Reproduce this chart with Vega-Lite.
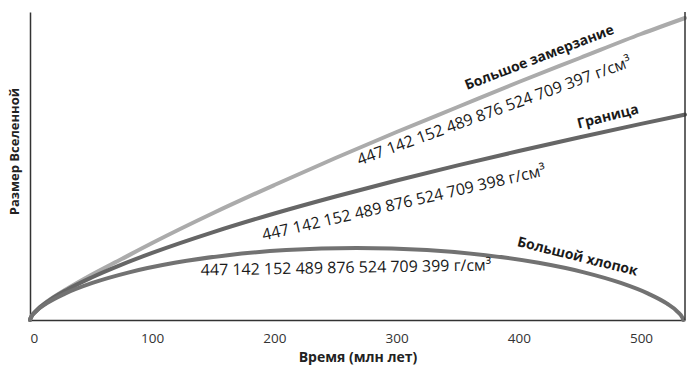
{
  "$schema": "https://vega.github.io/schema/vega-lite/v6.json",
  "autosize": "none",
  "padding": {"left": 30, "top": 12, "right": 9, "bottom": 63},
  "width": 655,
  "height": 308,
  "config": {"view": {"stroke": null}, "font": "Open Sans"},
  "layer": [
    {
      "data": {"values": [
        {"s": "freeze", "x": 0, "y": 0}, {"s": "freeze", "x": 1, "y": 3.1}, {"s": "freeze", "x": 5, "y": 9.2}, {"s": "freeze", "x": 15, "y": 19.3}, {"s": "freeze", "x": 30, "y": 31}, {"s": "freeze", "x": 50, "y": 45}, {"s": "freeze", "x": 75, "y": 61}, {"s": "freeze", "x": 100, "y": 77}, {"s": "freeze", "x": 150, "y": 107}, {"s": "freeze", "x": 200, "y": 135}, {"s": "freeze", "x": 250, "y": 162}, {"s": "freeze", "x": 300, "y": 188}, {"s": "freeze", "x": 350, "y": 213}, {"s": "freeze", "x": 400, "y": 238}, {"s": "freeze", "x": 450, "y": 262}, {"s": "freeze", "x": 500, "y": 286}, {"s": "freeze", "x": 536, "y": 302},
        {"s": "boundary", "x": 0, "y": 0}, {"s": "boundary", "x": 1, "y": 3.1}, {"s": "boundary", "x": 5, "y": 9.1}, {"s": "boundary", "x": 15, "y": 18.9}, {"s": "boundary", "x": 30, "y": 30.1}, {"s": "boundary", "x": 50, "y": 42.3}, {"s": "boundary", "x": 75, "y": 55.4}, {"s": "boundary", "x": 100, "y": 67.1}, {"s": "boundary", "x": 150, "y": 87.9}, {"s": "boundary", "x": 200, "y": 106.5}, {"s": "boundary", "x": 250, "y": 123.5}, {"s": "boundary", "x": 300, "y": 139.5}, {"s": "boundary", "x": 350, "y": 154.6}, {"s": "boundary", "x": 400, "y": 169}, {"s": "boundary", "x": 450, "y": 182.8}, {"s": "boundary", "x": 500, "y": 196.1}, {"s": "boundary", "x": 536, "y": 205.4},
        {"s": "crunch", "x": 0, "y": 0}, {"s": "crunch", "x": 0.11, "y": 0.72}, {"s": "crunch", "x": 0.9, "y": 2.84}, {"s": "crunch", "x": 4.75, "y": 8.47}, {"s": "crunch", "x": 13.49, "y": 16.55}, {"s": "crunch", "x": 28.62, "y": 26.37}, {"s": "crunch", "x": 51.08, "y": 37.05}, {"s": "crunch", "x": 81.13, "y": 47.64}, {"s": "crunch", "x": 118.38, "y": 57.19}, {"s": "crunch", "x": 161.76, "y": 64.84}, {"s": "crunch", "x": 209.7, "y": 69.92}, {"s": "crunch", "x": 267.25, "y": 72}, {"s": "crunch", "x": 324.8, "y": 69.92}, {"s": "crunch", "x": 372.74, "y": 64.84}, {"s": "crunch", "x": 416.12, "y": 57.19}, {"s": "crunch", "x": 453.37, "y": 47.64}, {"s": "crunch", "x": 483.42, "y": 37.05}, {"s": "crunch", "x": 505.88, "y": 26.37}, {"s": "crunch", "x": 521.01, "y": 16.55}, {"s": "crunch", "x": 529.75, "y": 8.47}, {"s": "crunch", "x": 533.6, "y": 2.84}, {"s": "crunch", "x": 534.39, "y": 0.72}, {"s": "crunch", "x": 534.5, "y": 0}
      ]},
      "mark": {"type": "line", "interpolate": "monotone", "strokeWidth": 4, "strokeCap": "round"},
      "encoding": {
        "x": {"field": "x", "type": "quantitative", "scale": {"domain": [0, 536], "nice": false},
          "axis": {"values": [0, 100, 200, 300, 400, 500], "grid": false, "ticks": false, "tickSize": 0, "domainColor": "#333", "domainWidth": 1.5, "labelFontSize": 13.5, "labelColor": "#333", "labelPadding": 11, "labelFont": "Open Sans", "title": "Время (млн лет)", "titleFontSize": 14, "titleFontWeight": "bold", "titleColor": "#222", "titlePadding": 6, "titleFont": "Open Sans"}},
        "y": {"field": "y", "type": "quantitative", "scale": {"domain": [0, 308], "nice": false},
          "axis": {"labels": false, "ticks": false, "grid": false, "domainColor": "#333", "domainWidth": 1.5, "title": "Размер Вселенной", "titleFontSize": 13, "titleFontWeight": "bold", "titleColor": "#222", "titleFont": "Open Sans", "titleX": -16, "titleY": 139, "titleAngle": -90, "titleAlign": "center", "titleBaseline": "middle"}},
        "color": {"field": "s", "type": "nominal", "scale": {"domain": ["freeze", "boundary", "crunch"], "range": ["#ababab", "#666666", "#727272"]}, "legend": null},
        "detail": {"field": "s"}
      }
    },
    {
      "data": {"values": [{}]},
      "mark": {"type": "rule", "color": "#333", "strokeWidth": 1.5},
      "encoding": {"x": {"datum": 536, "type": "quantitative"}, "y": {"datum": 0, "type": "quantitative"}, "y2": {"datum": 308}}
    },
    {
      "data": {"values": [{"x": 417, "y": 262, "t": "Большое замерзание"}]},
      "mark": {"type": "text", "angle": -21, "fontSize": 14, "fontWeight": "bold", "color": "#1a1a1a", "align": "center", "baseline": "middle"},
      "encoding": {"x": {"field": "x", "type": "quantitative"}, "y": {"field": "y", "type": "quantitative"}, "text": {"field": "t"}}
    },
    {
      "data": {"values": [{"x": 380, "y": 209, "t": "447 142 152 489 876 524 709 397 г/см³"}]},
      "mark": {"type": "text", "angle": -20, "fontSize": 16, "color": "#1a1a1a", "align": "center", "baseline": "middle"},
      "encoding": {"x": {"field": "x", "type": "quantitative"}, "y": {"field": "y", "type": "quantitative"}, "text": {"field": "t"}}
    },
    {
      "data": {"values": [{"x": 473, "y": 203, "t": "Граница"}]},
      "mark": {"type": "text", "angle": -14, "fontSize": 14, "fontWeight": "bold", "color": "#1a1a1a", "align": "center", "baseline": "middle"},
      "encoding": {"x": {"field": "x", "type": "quantitative"}, "y": {"field": "y", "type": "quantitative"}, "text": {"field": "t"}}
    },
    {
      "data": {"values": [{"x": 306, "y": 117, "t": "447 142 152 489 876 524 709 398 г/см³"}]},
      "mark": {"type": "text", "angle": -13, "fontSize": 16, "color": "#1a1a1a", "align": "center", "baseline": "middle"},
      "encoding": {"x": {"field": "x", "type": "quantitative"}, "y": {"field": "y", "type": "quantitative"}, "text": {"field": "t"}}
    },
    {
      "data": {"values": [{"x": 258.6, "y": 52, "t": "447 142 152 489 876 524 709 399 г/см³"}]},
      "mark": {"type": "text", "angle": -1, "fontSize": 16, "color": "#1a1a1a", "align": "center", "baseline": "middle"},
      "encoding": {"x": {"field": "x", "type": "quantitative"}, "y": {"field": "y", "type": "quantitative"}, "text": {"field": "t"}}
    },
    {
      "data": {"values": [{"x": 448, "y": 63, "t": "Большой хлопок"}]},
      "mark": {"type": "text", "angle": 14, "fontSize": 14, "fontWeight": "bold", "color": "#1a1a1a", "align": "center", "baseline": "middle"},
      "encoding": {"x": {"field": "x", "type": "quantitative"}, "y": {"field": "y", "type": "quantitative"}, "text": {"field": "t"}}
    }
  ]
}
